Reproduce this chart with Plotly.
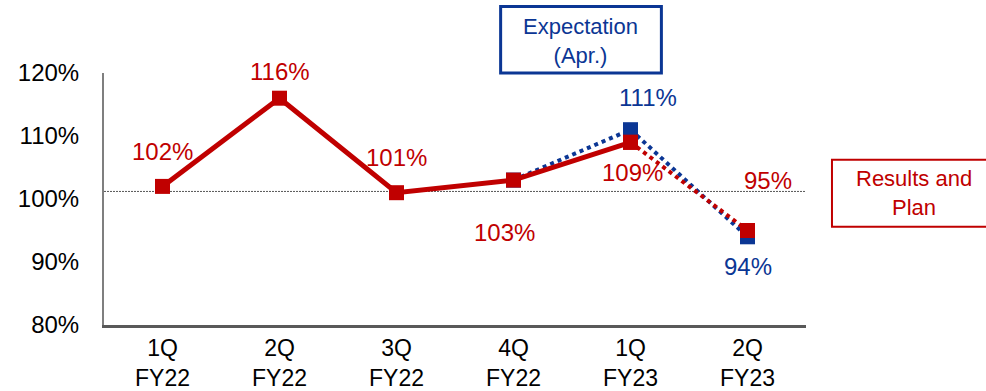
import plotly.graph_objects as go

# Quarterly data
categories = ["1Q<br>FY22", "2Q<br>FY22", "3Q<br>FY22", "4Q<br>FY22", "1Q<br>FY23", "2Q<br>FY23"]
results = [102, 116, 101, 103, 109]          # actual results, 1Q FY22 - 1Q FY23
plan_cats = ["1Q<br>FY23", "2Q<br>FY23"]
plan = [109, 95]                              # results -> plan segment
expect_cats = ["4Q<br>FY22", "1Q<br>FY23", "2Q<br>FY23"]
expectation = [103, 111, 94]                  # April expectation
reference_level = 101.2
y_ticks = [80, 90, 100, 110, 120]
y_tick_text = ["80%", "90%", "100%", "110%", "120%"]

RED = "#C00000"
BLUE = "#0B3694"
FONT = "Liberation Sans, Arial, sans-serif"

fig = go.Figure()

# Expectation (dotted blue) drawn first so the red series sits on top
fig.add_trace(go.Scatter(
    x=expect_cats, y=expectation, mode="lines+markers",
    line=dict(color=BLUE, width=4, dash="4px,4px"),
    marker=dict(symbol="square", size=15, color=BLUE),
    hoverinfo="skip", showlegend=False,
))
# Plan segment (dotted red)
fig.add_trace(go.Scatter(
    x=plan_cats, y=plan, mode="lines+markers",
    line=dict(color=RED, width=4, dash="4px,4px"),
    marker=dict(symbol="square", size=15, color=RED),
    hoverinfo="skip", showlegend=False,
))
# Results (solid red)
fig.add_trace(go.Scatter(
    x=categories[:len(results)], y=results, mode="lines+markers",
    line=dict(color=RED, width=5),
    marker=dict(symbol="square", size=15, color=RED),
    hoverinfo="skip", showlegend=False,
))

# Value labels, offset in pixels from their points
labels = [
    (categories[0], results[0], 0, 35, RED),
    (categories[1], results[1], 0, 27, RED),
    (categories[2], results[2], 0, 35, RED),
    (categories[3], results[3], -9, -52, RED),
    (categories[4], results[4], 2, -30, RED),
    (expect_cats[1], expectation[1], 17, 32, BLUE),
    (plan_cats[1], plan[1], 20, 50, RED),
    (expect_cats[2], expectation[2], 0, -30, BLUE),
]
for x, v, dx, dy, c in labels:
    fig.add_annotation(x=x, y=v, text=f"{v}%", showarrow=False,
                       xanchor="center", yanchor="middle",
                       xshift=dx, yshift=dy, font=dict(size=24, color=c, family=FONT))

# Reference level
fig.add_shape(type="line", xref="paper", yref="y", x0=0, x1=1,
              y0=reference_level, y1=reference_level,
              line=dict(color="#555555", width=1, dash="2px,1px"), layer="below")

# Legend-like boxes
fig.add_shape(type="rect", xref="paper", yref="paper",
              x0=0.565, x1=0.794, y0=1.0, y1=1.264,
              line=dict(color=BLUE, width=3), fillcolor="white")
fig.add_annotation(xref="paper", yref="paper", x=0.679, y=1.128,
                   xanchor="center", yanchor="middle",
                   text="Expectation<br>(Apr.)", showarrow=False,
                   font=dict(size=22, color=BLUE, family=FONT))
fig.add_shape(type="rect", xref="paper", yref="paper",
              x0=1.037, x1=1.27, y0=0.39, y1=0.656,
              line=dict(color=RED, width=2), fillcolor="white")
fig.add_annotation(xref="paper", yref="paper", x=1.154, y=0.524,
                   xanchor="center", yanchor="middle",
                   text="Results and<br>Plan", showarrow=False,
                   font=dict(size=22, color=RED, family=FONT))

fig.update_layout(
    width=986, height=391,
    margin=dict(l=104, r=180, t=73, b=66),
    plot_bgcolor="white", paper_bgcolor="white",
    font=dict(family=FONT, size=24, color="black"),
    xaxis=dict(
        type="category", categoryorder="array", categoryarray=categories,
        range=[-0.5, 5.5], showgrid=False, zeroline=False, automargin=False,
        showline=True, linecolor="#595959", linewidth=2.5,
        ticks="outside", ticklen=1, tickcolor="rgba(0,0,0,0)",
        tickfont=dict(size=23, color="black"),
    ),
    yaxis=dict(
        range=[80, 120], tickvals=y_ticks, ticktext=y_tick_text,
        showgrid=False, zeroline=False, automargin=False,
        showline=True, linecolor="#7f7f7f", linewidth=2,
        ticks="outside", ticklen=18, tickcolor="rgba(0,0,0,0)",
        tickfont=dict(size=24, color="black"),
    ),
)

fig.write_html("out.html")
